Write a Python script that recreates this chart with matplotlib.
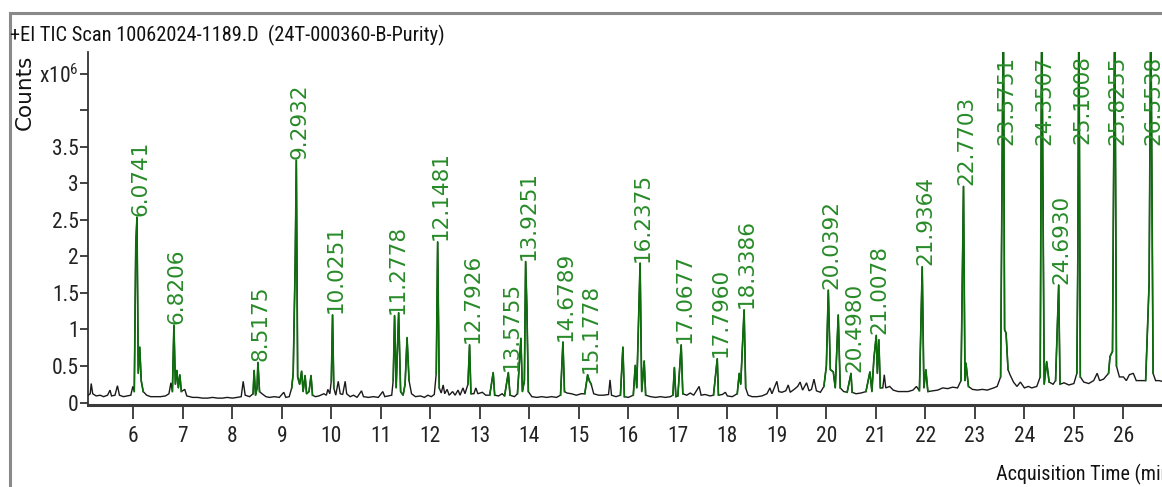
import numpy as np
import matplotlib
matplotlib.use("Agg")
import matplotlib.pyplot as plt
from matplotlib import font_manager as fm
from matplotlib.patches import Rectangle

# ---------------- data ----------------
title_text = "+EI TIC Scan 10062024-1189.D  (24T-000360-B-Purity)"
xlabel_text = "Acquisition Time (min)"
ylabel_text = "Counts"

# chromatogram vertices: time (min) and counts (x10^6)
trace_time = [
    5.09, 5.13, 5.15, 5.18, 5.25, 5.33, 5.40, 5.48, 5.53, 5.56, 5.63, 5.68, 5.72, 5.80, 5.88, 5.95, 5.99,
    6.02, 6.05, 6.0741, 6.10, 6.13, 6.16, 6.20, 6.27, 6.35, 6.45, 6.55, 6.65, 6.72, 6.76, 6.79, 6.8206,
    6.85, 6.88, 6.91, 6.94, 6.97, 7.04, 7.08, 7.20, 7.30, 7.40, 7.50, 7.60, 7.70, 7.80, 7.90, 8.00,
    8.10, 8.18, 8.22, 8.26, 8.35, 8.42, 8.44, 8.47, 8.50, 8.5175, 8.55, 8.60, 8.68, 8.75, 8.85, 8.95,
    9.04, 9.08, 9.15, 9.20, 9.23, 9.27, 9.2932, 9.32, 9.36, 9.40, 9.43, 9.47, 9.50, 9.55, 9.59, 9.62,
    9.68, 9.75, 9.85, 9.90, 9.93, 9.97, 10.00, 10.0251, 10.05, 10.09, 10.14, 10.18, 10.23, 10.28,
    10.31, 10.38, 10.45, 10.52, 10.61, 10.65, 10.75, 10.85, 10.95, 11.04, 11.08, 11.15, 11.22, 11.25,
    11.2778, 11.31, 11.36, 11.40, 11.45, 11.49, 11.53, 11.57, 11.62, 11.70, 11.80, 11.88, 11.95,
    12.02, 12.08, 12.12, 12.1481, 12.18, 12.22, 12.26, 12.29, 12.34, 12.38, 12.45, 12.50, 12.56,
    12.60, 12.66, 12.70, 12.76, 12.7926, 12.82, 12.88, 12.92, 12.96, 13.05, 13.12, 13.20, 13.27,
    13.30, 13.38, 13.45, 13.50, 13.5755, 13.61, 13.70, 13.76, 13.83, 13.86, 13.90, 13.9251, 13.95,
    13.98, 14.05, 14.15, 14.25, 14.35, 14.45, 14.55, 14.63, 14.6789, 14.71, 14.76, 14.85, 14.95,
    15.05, 15.12, 15.1778, 15.21, 15.25, 15.30, 15.40, 15.50, 15.60, 15.63, 15.66, 15.75, 15.84,
    15.89, 15.92, 16.00, 16.10, 16.14, 16.17, 16.2375, 16.27, 16.32, 16.35, 16.45, 16.55, 16.65,
    16.75, 16.85, 16.90, 16.93, 16.96, 17.00, 17.0677, 17.10, 17.18, 17.25, 17.32, 17.43, 17.47,
    17.55, 17.65, 17.72, 17.7960, 17.82, 17.90, 17.96, 18.00, 18.10, 18.20, 18.24, 18.27, 18.3386,
    18.37, 18.42, 18.50, 18.60, 18.70, 18.80, 18.86, 18.90, 19.00, 19.04, 19.10, 19.18, 19.23,
    19.27, 19.35, 19.42, 19.47, 19.52, 19.60, 19.65, 19.70, 19.75, 19.80, 19.88, 19.95, 20.00,
    20.0392, 20.08, 20.14, 20.18, 20.24, 20.28, 20.35, 20.42, 20.4980, 20.52, 20.60, 20.70, 20.80,
    20.88, 20.92, 20.96, 21.0078, 21.03, 21.06, 21.09, 21.14, 21.17, 21.20, 21.28, 21.35, 21.45,
    21.55, 21.65, 21.75, 21.82, 21.88, 21.9364, 21.97, 22.01, 22.05, 22.15, 22.25, 22.35, 22.45,
    22.55, 22.65, 22.72, 22.7703, 22.80, 22.82, 22.87, 22.95, 23.05, 23.15, 23.25, 23.38, 23.45,
    23.52, 23.5751, 23.60, 23.63, 23.67, 23.71, 23.78, 23.85, 23.92, 24.00, 24.08, 24.15, 24.25,
    24.32, 24.3507, 24.40, 24.45, 24.50, 24.58, 24.63, 24.6930, 24.72, 24.80, 24.90, 25.00, 25.06,
    25.08, 25.1008, 25.13, 25.20, 25.30, 25.40, 25.47, 25.52, 25.60, 25.70, 25.73, 25.78, 25.8255,
    25.86, 25.92, 26.00, 26.06, 26.12, 26.20, 26.26, 26.35, 26.45, 26.52, 26.5538, 26.60, 26.65,
    26.72, 26.78,
]
trace_counts = [
    0.10, 0.12, 0.26, 0.12, 0.09, 0.10, 0.08, 0.10, 0.17, 0.09, 0.10, 0.23, 0.10, 0.08, 0.09, 0.10, 0.22,
    0.15, 2.15, 2.54, 0.40, 0.76, 0.30, 0.15, 0.10, 0.08, 0.08, 0.08, 0.09, 0.12, 0.27, 0.15, 1.06,
    0.25, 0.44, 0.20, 0.38, 0.15, 0.18, 0.09, 0.07, 0.07, 0.06, 0.06, 0.07, 0.06, 0.06, 0.07, 0.06,
    0.07, 0.08, 0.29, 0.10, 0.08, 0.12, 0.44, 0.10, 0.20, 0.55, 0.15, 0.12, 0.08, 0.07, 0.08, 0.07,
    0.14, 0.07, 0.08, 0.20, 0.40, 1.90, 3.32, 0.35, 0.25, 0.43, 0.15, 0.37, 0.12, 0.15, 0.37, 0.10,
    0.08, 0.09, 0.12, 0.10, 0.18, 0.12, 0.30, 1.20, 0.20, 0.10, 0.29, 0.12, 0.11, 0.29,
    0.12, 0.08, 0.10, 0.07, 0.16, 0.08, 0.07, 0.08, 0.07, 0.15, 0.08, 0.09, 0.10, 0.30,
    1.19, 0.20, 1.23, 0.15, 0.10, 0.25, 0.89, 0.30, 0.12, 0.08, 0.09, 0.07, 0.10,
    0.08, 0.11, 0.40, 2.20, 0.20, 0.13, 0.24, 0.12, 0.18, 0.10, 0.15, 0.10, 0.17,
    0.10, 0.20, 0.12, 0.25, 0.79, 0.12, 0.12, 0.20, 0.12, 0.14, 0.10, 0.10, 0.41,
    0.10, 0.09, 0.12, 0.09, 0.41, 0.10, 0.08, 0.12, 0.88, 0.15, 0.30, 1.93, 1.31,
    0.15, 0.08, 0.07, 0.08, 0.07, 0.08, 0.07, 0.10, 0.83, 0.15, 0.13, 0.12, 0.10,
    0.12, 0.12, 0.38, 0.30, 0.25, 0.12, 0.10, 0.10, 0.11, 0.31, 0.10, 0.08, 0.10,
    0.76, 0.08, 0.07, 0.10, 0.51, 0.20, 1.91, 0.15, 0.57, 0.10, 0.08, 0.07, 0.08,
    0.07, 0.08, 0.10, 0.48, 0.08, 0.09, 0.79, 0.12, 0.10, 0.13, 0.10, 0.22, 0.10,
    0.11, 0.09, 0.10, 0.60, 0.10, 0.11, 0.14, 0.09, 0.08, 0.12, 0.40, 0.25, 1.27,
    0.20, 0.10, 0.08, 0.08, 0.09, 0.12, 0.20, 0.12, 0.29, 0.15, 0.14, 0.16, 0.24,
    0.14, 0.18, 0.22, 0.28, 0.17, 0.27, 0.16, 0.18, 0.32, 0.16, 0.14, 0.22, 0.50,
    1.54, 0.45, 0.42, 0.20, 1.20, 0.20, 0.15, 0.14, 0.40, 0.14, 0.12, 0.13, 0.15,
    0.42, 0.15, 0.60, 0.92, 0.40, 0.86, 0.20, 0.20, 0.38, 0.20, 0.22, 0.17, 0.15,
    0.15, 0.15, 0.17, 0.22, 0.16, 1.86, 0.20, 0.45, 0.15, 0.16, 0.17, 0.20, 0.19,
    0.21, 0.20, 0.30, 2.96, 0.30, 0.54, 0.22, 0.18, 0.17, 0.18, 0.17, 0.20, 0.22,
    0.35, 5.50, 1.00, 0.95, 0.45, 0.38, 0.28, 0.22, 0.28, 0.20, 0.22, 0.20, 0.22,
    0.35, 5.50, 0.25, 0.56, 0.28, 0.25, 0.30, 1.61, 0.25, 0.27, 0.24, 0.26, 0.40,
    2.00, 5.50, 0.35, 0.28, 0.26, 0.30, 0.40, 0.30, 0.32, 0.40, 0.63, 0.70, 5.50,
    0.50, 0.35, 0.35, 0.30, 0.38, 0.40, 0.30, 0.30, 0.30, 1.64, 5.50, 0.40, 0.30,
    0.30, 0.29,
]

# integrated (green) regions of the trace: start / end times
green_start = [6.02, 6.79, 8.42, 9.20, 10.00, 11.25, 12.12, 12.76, 13.20, 13.50, 13.76, 14.63, 15.12,
               15.84, 16.10, 16.90, 17.00, 17.72, 18.20, 19.95, 20.42, 20.80, 21.88, 22.72, 23.52,
               24.32, 24.63, 25.06, 25.70, 26.45]
green_end = [6.20, 6.97, 8.55, 9.62, 10.05, 11.57, 12.18, 12.82, 13.30, 13.61, 13.98, 14.71, 15.25,
             15.92, 16.35, 16.96, 17.10, 17.82, 18.37, 20.28, 20.52, 21.09, 22.05, 22.87, 23.67,
             24.50, 24.72, 25.13, 25.86, 26.60]

# labelled peaks (retention times)
peak_labels = ["6.0741", "6.8206", "8.5175", "9.2932", "10.0251", "11.2778", "12.1481", "12.7926",
               "13.5755", "13.9251", "14.6789", "15.1778", "16.2375", "17.0677", "17.7960", "18.3386",
               "20.0392", "20.4980", "21.0078", "21.9364", "22.7703", "23.5751", "24.3507", "24.6930",
               "25.1008", "25.8255", "26.5538"]

x_ticks = list(range(6, 27))
y_ticks = [0, 0.5, 1, 1.5, 2, 2.5, 3, 3.5, 4.0, 4.5]
y_tick_labels = ["0", "0.5", "1", "1.5", "2", "2.5", "3", "3.5", "", r"x10$^{6}$"]

# ---------------- fonts ----------------
names = {f.name for f in fm.fontManager.ttflist}
narrow_family = None
narrow_stretch = "normal"
for cand in ["Liberation Sans Narrow", "Roboto Condensed", "Open Sans Condensed", "DejaVu Sans Condensed"]:
    if cand in names:
        narrow_family = cand
        break
scale = 1.0
if narrow_family is None:
    cond = [f for f in fm.fontManager.ttflist if f.name == "DejaVu Sans" and "condensed" in str(f.stretch)]
    if cond:
        narrow_family = "DejaVu Sans"
        narrow_stretch = "condensed"
        scale = 0.9
    else:
        narrow_family = "Liberation Sans"
        scale = 0.82

plt.rcParams["mathtext.fontset"] = "custom"
plt.rcParams["mathtext.rm"] = narrow_family
plt.rcParams["mathtext.it"] = narrow_family
plt.rcParams["mathtext.default"] = "rm"

axfont = dict(family=narrow_family, stretch=narrow_stretch, size=15.5 * scale)
titlefont = dict(family=narrow_family, stretch=narrow_stretch, size=14.7 * scale)
xlabfont = dict(family=narrow_family, stretch=narrow_stretch, size=14.5 * scale)

# ---------------- figure ----------------
W, H = 1162, 487
fig = plt.figure(figsize=(W / 100, H / 100), dpi=100)
fig.patch.set_facecolor("white")

# outer frame
fig.add_artist(Rectangle((10 / W, -0.2), 1.2, 1.2 - 13 / H, transform=fig.transFigure,
                         fill=False, edgecolor="#8a8a8a", linewidth=2.2))

ax_left = 88 / W
ax_bottom = (H - 404.7) / H
ax_top = (H - 52) / H
ax = fig.add_axes([ax_left, ax_bottom, 1 - ax_left, ax_top - ax_bottom])
ax.set_xlim(5.085, 26.78)
ax.set_ylim(-0.03, 4.80)

t = np.array(trace_time)
c = np.array(trace_counts)
ax.plot(t, c, color="#1a1a1a", lw=1.0, zorder=3, solid_joinstyle="miter")
for s, e in zip(green_start, green_end):
    m = (t >= s - 1e-9) & (t <= e + 1e-9)
    ax.plot(t[m], c[m], color="#0b6e0b", lw=1.2, zorder=4)

ytop = ax.get_ylim()[1]
for lab in peak_labels:
    rt = float(lab)
    h = float(np.interp(rt, t, c))
    if h >= ytop - 0.9:
        ax.annotate(lab, xy=(rt, ytop), xytext=(2.2, -2.5), textcoords="offset points",
                    rotation=90, ha="center", va="top", color="#278a27",
                    fontsize=15.5, family="DejaVu Sans", zorder=5, annotation_clip=False)
    else:
        ax.annotate(lab, xy=(rt, h), xytext=(2.2, 1), textcoords="offset points",
                    rotation=90, ha="center", va="bottom", color="#278a27",
                    fontsize=15.5, family="DejaVu Sans", zorder=5)

for sp in ["top", "right"]:
    ax.spines[sp].set_visible(False)
ax.spines["left"].set_color("#333333")
ax.spines["left"].set_linewidth(1.3)
ax.spines["bottom"].set_color("#3a3a3a")
ax.spines["bottom"].set_linewidth(2.2)

ax.set_xticks(x_ticks)
ax.set_xticklabels([str(v) for v in x_ticks], fontdict=axfont)
ax.set_yticks(y_ticks)
ax.set_yticklabels(y_tick_labels, fontdict=axfont)
ax.tick_params(axis="x", direction="out", length=10, width=1.2, pad=5, colors="#222222")
ax.tick_params(axis="y", direction="out", length=6, width=1.2, pad=0.5, colors="#222222")
ax.set_facecolor("none")

fig.text(10 / W, 1 - 35 / H, title_text, ha="left", va="center", color="#111111", **titlefont)
fig.text(996 / W, 1 - 474 / H, xlabel_text, ha="left", va="center", color="#111111", **xlabfont)
fig.text(25 / W, 1 - 92 / H, ylabel_text, rotation=90, ha="center", va="center",
         color="#111111", family="DejaVu Sans", fontsize=15.5)

fig.savefig("out.png", dpi=100)
